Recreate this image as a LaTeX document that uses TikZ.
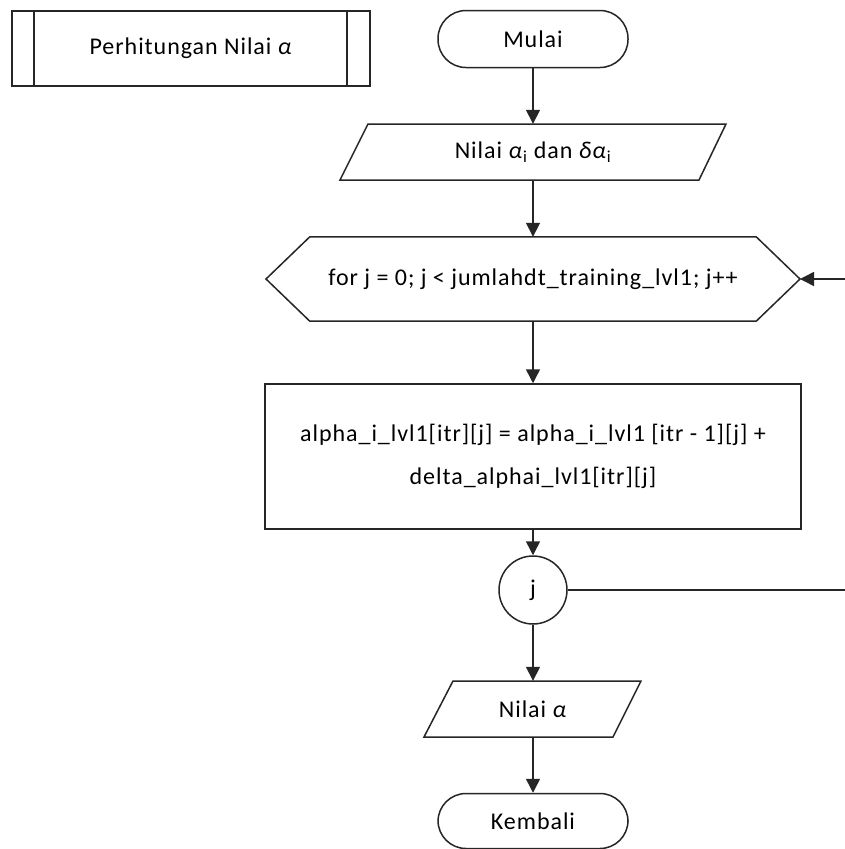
\documentclass[tikz,border=0pt]{standalone}
\usepackage{fontspec}
\setmainfont{Carlito}[LetterSpace=4]
\usetikzlibrary{arrows.meta,shapes.geometric}

\tikzset{
  flowline/.style={draw=black!85, line width=1.5pt},
  flowarrow/.style={flowline, -{Triangle[length=14pt,width=14pt]}},
  labelfont/.style={font=\fontsize{24}{29}\selectfont},
  terminal/.style={flowline, labelfont, rectangle, rounded corners=28pt, minimum width=190pt, minimum height=57pt},
  slot/.style={rectangle, inner sep=0pt, labelfont, align=center},
  procbox/.style={flowline, rectangle, inner sep=0pt, font=\fontsize{24}{43}\selectfont, align=center},
  joint/.style={flowline, circle, minimum size=68pt, inner sep=0pt, labelfont}
}

\begin{document}
\begin{tikzpicture}[x=1pt,y=-1pt]
  \useasboundingbox (0,0) rectangle (845,849);
  \clip (0,0) rectangle (845,849);
  \fill[white] (0,0) rectangle (845,849);

  % predefined process header
  \node[slot, minimum width=358pt, minimum height=75pt] (sub) at (191,48.5) {Perhitungan Nilai \textit{α}};
  \draw[flowline] (sub.north west) rectangle (sub.south east);
  \draw[flowline] (34,11) -- (34,86);
  \draw[flowline] (347,11) -- (347,86);

  % start
  \node[terminal] (mulai) at (533,39) {Mulai};

  % input
  \node[slot, minimum width=330pt, minimum height=56pt] (inp) at (533,152) {Nilai \textit{α}\textsubscript{i} dan \textit{δα}\textsubscript{i}};
  \draw[flowline] (368,124) -- (726,124) -- (699,180) -- (340,180) -- cycle;

  % loop header
  \node[slot, minimum width=446pt, minimum height=84pt] (loop) at (533,279) {for j = 0; j < jumlahdt\_training\_lvl1; j++};
  \coordinate (loopL) at (266,279);
  \coordinate (loopR) at (800,279);
  \draw[flowline] (loopL) -- (loop.north west) -- (loop.north east) -- (loopR) -- (loop.south east) -- (loop.south west) -- cycle;

  % process
  \node[procbox, minimum width=536pt, minimum height=145pt] (proc) at (533,456.5)
    {alpha\_i\_lvl1[itr][j] = alpha\_i\_lvl1 [itr - 1][j] +\\ delta\_alphai\_lvl1[itr][j]};

  % loop end
  \node[joint] (jj) at (533,590) {j};

  % output
  \node[slot, minimum width=160pt, minimum height=56pt] (out) at (533,709) {Nilai \textit{α}};
  \draw[flowline] (453,681) -- (641,681) -- (613,737) -- (424,737) -- cycle;

  % return
  \node[terminal, minimum height=55pt] (kembali) at (533,821) {Kembali};

  % connectors
  \draw[flowarrow] (mulai.south) -- (inp.north);
  \draw[flowarrow] (inp.south) -- (loop.north);
  \draw[flowarrow] (loop.south) -- (proc.north);
  \draw[flowarrow] (proc.south) -- (jj.north);
  \draw[flowarrow] (jj.south) -- (out.north);
  \draw[flowarrow] (out.south) -- (kembali.north);
  \coordinate (backB) at (870,590);
  \coordinate (backT) at (870,279);
  \draw[flowarrow] (jj.east) -- (backB) -- (backT) -- (loopR);
\end{tikzpicture}
\end{document}
